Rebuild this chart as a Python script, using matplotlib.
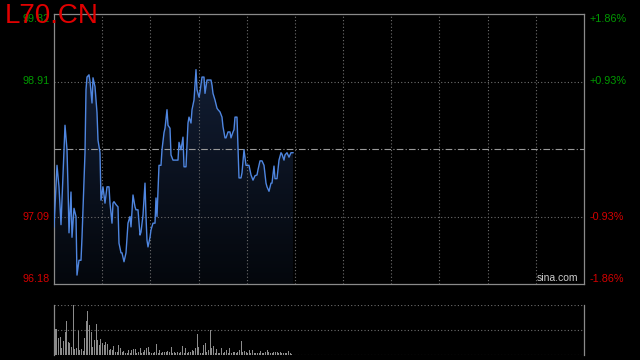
import numpy as np
import matplotlib
matplotlib.use("Agg")
import matplotlib.pyplot as plt
from matplotlib.colors import LinearSegmentedColormap
from matplotlib.patches import Polygon

# intraday prices, x in session ticks (session = 530 ticks)
ticks = [0, 3, 5, 7, 8, 11, 13, 14, 15, 17, 18, 20, 22, 23, 25, 27, 28, 31, 32, 33,
         35, 36, 38, 39, 41, 43, 44, 46, 47, 49, 51, 53, 55, 56, 58, 59,
         60, 62, 64, 65, 67, 68, 70, 72, 74, 76, 77, 79, 81, 82, 84, 86, 87, 89,
         91, 92, 93, 94, 96, 97, 99, 101, 102, 103, 105, 107, 108, 110, 111, 113,
         114, 116, 117, 119,
         120, 124, 125, 127, 129, 130, 132, 134, 135, 137, 138, 140, 142, 143, 145,
         146, 148, 150, 151, 153, 155, 157, 158, 159, 161, 163, 164, 166, 168, 169,
         171, 172, 174, 176, 177, 179,
         180, 181, 183, 185, 187, 188, 190, 192, 193, 195, 197, 199, 201, 203, 204,
         206, 208, 210, 212, 213, 215, 217, 218, 220, 221, 223, 225, 227, 228, 230,
         231, 233, 235, 237, 239]
prices = [96.95, 97.78, 97.49, 96.98, 97.31, 98.32, 97.99, 97.49, 96.87, 97.42,
          96.81, 97.20, 97.09, 96.30, 96.50, 96.50, 96.81, 97.95, 98.80, 98.97,
          99.00, 98.91, 98.62, 98.96, 98.84, 98.49, 98.12, 97.95, 97.31, 97.49,
          97.27, 97.49, 97.49, 97.27, 97.00, 97.27,
          97.29, 97.25, 97.22, 96.73, 96.60, 96.60, 96.48, 96.60, 97.00, 97.09,
          96.95, 97.38, 97.22, 97.18, 97.18, 96.84, 96.88, 97.11, 97.54, 97.09,
          96.77, 96.68, 96.81, 96.91, 97.00, 97.00, 97.34, 97.09, 97.78, 97.78,
          97.99, 98.22, 98.28, 98.53, 98.32, 98.28, 97.92, 97.85,
          97.85, 97.85, 98.09, 97.99, 98.16, 97.76, 97.76, 98.35, 98.43, 98.35,
          98.53, 98.66, 99.07, 98.80, 98.70, 98.77, 98.97, 98.97, 98.75, 98.93,
          98.93, 98.93, 98.86, 98.75, 98.66, 98.55, 98.53, 98.50, 98.43, 98.30,
          98.15, 98.15, 98.23, 98.23, 98.15, 98.23,
          98.26, 98.43, 98.43, 97.61, 97.61, 97.68, 97.99, 97.78, 97.78, 97.78,
          97.65, 97.58, 97.64, 97.65, 97.72, 97.84, 97.84, 97.78, 97.54, 97.49,
          97.43, 97.54, 97.54, 97.77, 97.60, 97.60, 97.85, 97.95, 97.93, 97.85,
          97.92, 97.95, 97.89, 97.95, 97.95]

volumes = [517, 517, 344, 358, 132, 278, 464, 675, 265, 245, 166, 1000, 113, 132,
           477, 99, 119, 79, 331, 675, 874, 596, 464, 166, 298, 616, 298, 199, 318,
           232, 199, 252, 219, 99, 119, 99, 179, 53, 53, 199, 146, 66, 79, 33, 33, 99,
           33, 99, 119, 119, 33, 66, 146, 33, 66, 99, 132, 166, 53, 33, 33, 53, 212,
           33, 99, 33, 53, 53, 66, 79, 53, 152, 33, 66, 33, 53, 33, 66, 179, 33, 146,
           33, 53, 66, 99, 79, 146, 411, 166, 33, 33, 199, 232, 66, 99, 497, 132, 179,
           33, 119, 33, 33, 132, 33, 66, 99, 33, 146, 33, 53, 53, 33, 66, 99, 278, 53,
           79, 53, 33, 99, 33, 99, 33, 33, 33, 33, 79, 33, 33, 53, 99, 53, 33, 33, 53,
           66, 66, 33, 53, 33, 33, 33, 33, 79, 33, 20]

prev_close = 98.00
y_ticks = [99.82, 98.91, 97.09, 96.18]
pct_labels = ["+1.86%", "+0.93%", "-0.93%", "-1.86%"]
SESSION = 530

up_c, down_c = "#009900", "#d40000"
grid_c = "#6e6e6e"
border_c = "#8a8a8a"

fig = plt.figure(figsize=(6.4, 3.6), dpi=100, facecolor="black")
ax = fig.add_axes([54 / 640, 76 / 360, 530 / 640, 270 / 360], facecolor="black")
axv = fig.add_axes([54 / 640, 5 / 360, 530 / 640, 50 / 360], facecolor="black")

ymin, ymax = y_ticks[-1], y_ticks[0]

# gradient area under the line
verts = np.column_stack([[ticks[0]] + ticks + [ticks[-1]],
                         [ymin] + prices + [ymin]])
poly = Polygon(verts, closed=True, facecolor="none", edgecolor="none")
ax.add_patch(poly)
cmap = LinearSegmentedColormap.from_list("fill", ["#04070c", "#15223c"])
im = ax.imshow(np.linspace(0, 1, 256).reshape(-1, 1), cmap=cmap, origin="lower",
               extent=[0, SESSION, ymin, ymax], aspect="auto", zorder=1)
im.set_clip_path(poly)

ax.plot(ticks, prices, color="#4f86e0", lw=1.0, zorder=3)

ax.set_xlim(0, SESSION)
ax.set_ylim(ymin, ymax)
ax.set_xticks(np.arange(1, 11) * SESSION / 11)
ax.set_yticks([98.91, 97.09])
ax.grid(True, color=grid_c, ls=(0, (1, 2)), lw=0.8)
ax.axhline(prev_close, color="#9a9a9a", lw=0.8, ls=(0, (6, 2, 1, 2)), zorder=2)
ax.tick_params(length=0, labelleft=False, labelbottom=False)
for s in ax.spines.values():
    s.set_color(border_c)
    s.set_linewidth(0.9)

# price and percent labels
for i, (v, p) in enumerate(zip(y_ticks, pct_labels)):
    c = up_c if v > prev_close else down_c
    va = "top" if i == 0 else ("bottom" if i == 3 else "center")
    ax.text(-0.008, v, f"{v:.2f}", transform=ax.get_yaxis_transform(),
            ha="right", va=va, color=c, fontsize=7.8, family="Liberation Sans")
    ax.text(1.01, v, p, transform=ax.get_yaxis_transform(),
            ha="left", va=va, color=c, fontsize=7.8, family="Liberation Sans")

ax.text(0.99, 0.005, "sina.com", transform=ax.transAxes, ha="right", va="bottom",
        color="#cccccc", fontsize=7.5, family="Liberation Sans", zorder=5)

fig.text(5 / 640, 1 - 3 / 360, "L70.CN", ha="left", va="top", color="#e00000",
         fontsize=20, family="Liberation Sans", zorder=10)

# volume panel
vol_x = np.linspace(1.3, 237.7, len(volumes))
axv.bar(vol_x, volumes, width=1.0, color="#8c8c8c", zorder=2)
axv.set_xlim(0, SESSION)
axv.set_ylim(0, max(volumes))
axv.set_yticks([0, max(volumes) / 2, max(volumes)])
axv.set_xticks([])
axv.grid(True, axis="y", color=grid_c, ls=(0, (1, 2)), lw=0.8)
axv.tick_params(length=0, labelleft=False, labelbottom=False)
for side in ["top", "bottom"]:
    axv.spines[side].set_visible(False)
for side in ["left", "right"]:
    axv.spines[side].set_color(border_c)
    axv.spines[side].set_linewidth(0.9)

fig.savefig("out.png", dpi=100, facecolor="black")
